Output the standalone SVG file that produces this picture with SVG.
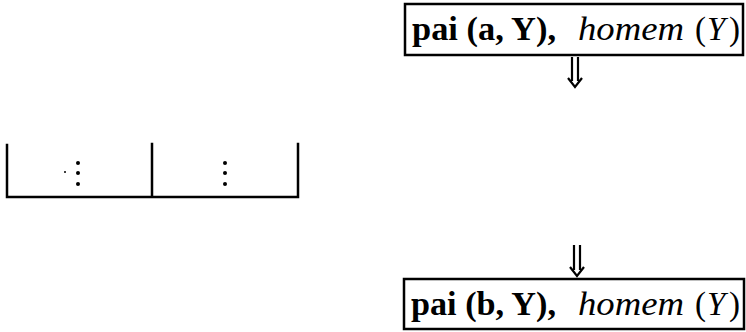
<svg xmlns="http://www.w3.org/2000/svg" width="746" height="332" viewBox="0 0 746 332">
  <defs>
    <style>
      .box { fill: #fff; stroke: #000; stroke-width: 2.5; }
      .line { fill: none; stroke: #000; stroke-width: 2.5; stroke-linecap: square; }
      .shaft { fill: none; stroke: #000; stroke-width: 2.2; }
      .head { fill: none; stroke: #000; stroke-width: 2.2; stroke-linejoin: miter; }
      text { font-family: "Liberation Serif", "DejaVu Serif", serif; font-size: 33px; }
      .b { font-weight: bold; }
      .i { font-style: italic; }
      .dot { fill: #000; }
    </style>
  </defs>

  <!-- goal: pai(a,Y), homem(Y) -->
  <g id="goal-top">
    <rect class="box" x="405" y="4" width="338" height="51"/>
    <text y="40">
      <tspan class="b" x="412" textLength="144" lengthAdjust="spacingAndGlyphs">pai (a, Y),</tspan>
      <tspan class="i" x="578" textLength="106" lengthAdjust="spacingAndGlyphs">homem</tspan>
      <tspan x="695">(</tspan><tspan class="i" x="707">Y</tspan><tspan x="729">)</tspan>
    </text>
  </g>

  <!-- goal: pai(b,Y), homem(Y) -->
  <g id="goal-bottom">
    <rect class="box" x="404" y="279" width="340" height="50"/>
    <text y="315">
      <tspan class="b" x="411" textLength="145" lengthAdjust="spacingAndGlyphs">pai (b, Y),</tspan>
      <tspan class="i" x="578" textLength="106" lengthAdjust="spacingAndGlyphs">homem</tspan>
      <tspan x="695">(</tspan><tspan class="i" x="707">Y</tspan><tspan x="729">)</tspan>
    </text>
  </g>

  <!-- elided branches -->
  <g id="branches">
    <path class="line" d="M7 145 V197 H298 V144 M152 144 V197"/>
    <circle class="dot" cx="78" cy="163" r="2"/>
    <circle class="dot" cx="78" cy="173" r="2"/>
    <circle class="dot" cx="78" cy="184" r="2"/>
    <circle class="dot" cx="65" cy="172" r="1"/>
    <circle class="dot" cx="225" cy="163" r="2"/>
    <circle class="dot" cx="225" cy="173" r="2"/>
    <circle class="dot" cx="225" cy="184" r="2"/>
  </g>

  <!-- derivation steps -->
  <g id="connectors">
    <path class="shaft" d="M572 57 V81 M578 57 V81"/>
    <path class="head" d="M568 78 L575 87 L582 78"/>
    <path class="shaft" d="M574 245 V270 M580 245 V270"/>
    <path class="head" d="M570 267 L577 276 L584 267"/>
  </g>
</svg>
